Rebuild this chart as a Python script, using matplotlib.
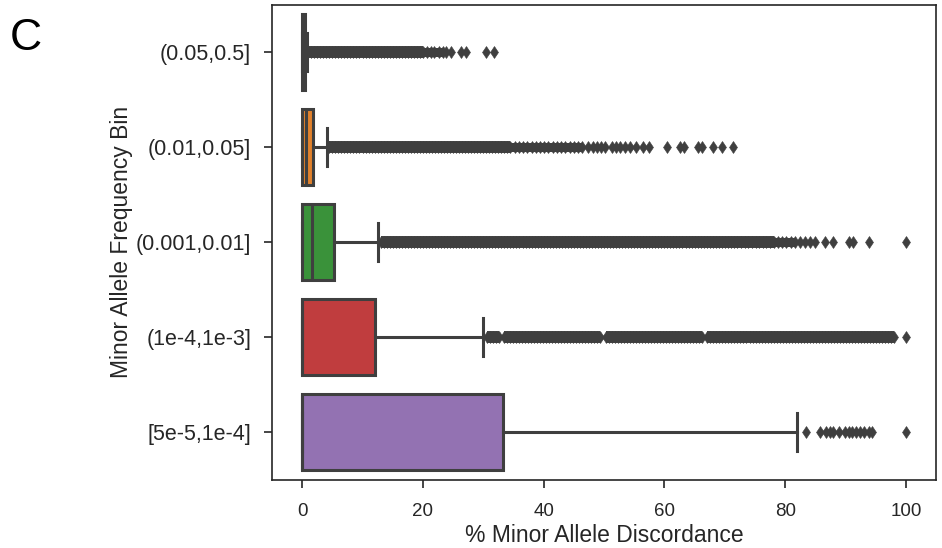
import matplotlib
matplotlib.use("Agg")
import matplotlib.pyplot as plt

# ── Data ─────────────────────────────────────────────────────────────────────
bins = ["(0.05,0.5]", "(0.01,0.05]", "(0.001,0.01]", "(1e-4,1e-3]", "[5e-5,1e-4]"]
q1 = [0.0, 0.0, 0.0, 0.0, 0.0]
med = [0.25, 0.7, 1.6, 0.0, 0.0]
q3 = [0.5, 1.8, 5.3, 12.1, 33.3]
whis_lo = [0.0, 0.0, 0.0, 0.0, 0.0]
whis_hi = [0.8, 4.1, 12.6, 30.0, 81.9]

# stretches where the outliers are so dense they merge into one solid band
dense_runs = [
    [(1.0, 20.0)],
    [(4.5, 34.5)],
    [(13.0, 78.1)],
    [(30.6, 32.6), (33.4, 49.4), (50.3, 66.3), (67.1, 98.1)],
    [],
]
# stretches that are still continuous but less dense
light_runs = [
    [(20.0, 23.3)],
    [(34.5, 46.4)],
    [(78.1, 81.6)],
    [],
    [],
]

fliers_0 = [1.0, 1.5, 2.0, 2.5, 3.0, 3.5, 4.0, 4.5, 5.0, 5.5, 6.0, 6.5, 7.0,
            7.5, 8.0, 8.5, 9.0, 9.5, 10.0, 10.5, 11.0, 11.5, 12.0, 12.5, 13.0,
            13.5, 14.0, 14.5, 15.0, 15.5, 16.0, 16.5, 17.0, 17.5, 18.0, 18.5,
            19.0, 19.5, 20.0, 20.6, 21.3, 21.9, 22.6, 23.3, 23.9, 24.6,
            26.3, 27.1, 30.4, 31.7]

fliers_1 = [4.5, 5.0, 5.5, 6.0, 6.5, 7.0, 7.5, 8.0, 8.5, 9.0, 9.5, 10.0,
            10.5, 11.0, 11.5, 12.0, 12.5, 13.0, 13.5, 14.0, 14.5, 15.0, 15.5,
            16.0, 16.5, 17.0, 17.5, 18.0, 18.5, 19.0, 19.5, 20.0, 20.5, 21.0,
            21.5, 22.0, 22.5, 23.0, 23.5, 24.0, 24.5, 25.0, 25.5, 26.0, 26.5,
            27.0, 27.5, 28.0, 28.5, 29.0, 29.5, 30.0, 30.5, 31.0, 31.5, 32.0,
            32.5, 33.0, 33.5, 34.0, 34.5, 35.2, 35.9, 36.6, 37.3, 38.0, 38.7,
            39.4, 40.1, 40.8, 41.5, 42.2, 42.9, 43.6, 44.3, 45.0, 45.7, 46.4,
            47.4, 48.1, 48.8, 49.5, 50.2, 51.3, 52.0, 52.7, 53.5, 54.3,
            55.3, 56.4, 57.4, 60.4, 62.6, 63.3, 65.5, 66.3, 68.0, 69.5, 71.3]

fliers_2 = [13.0, 13.5, 14.0, 14.5, 15.0, 15.5, 16.0, 16.5, 17.0, 17.5, 18.0,
            18.5, 19.0, 19.5, 20.0, 20.5, 21.0, 21.5, 22.0, 22.5, 23.0, 23.5,
            24.0, 24.5, 25.0, 25.5, 26.0, 26.5, 27.0, 27.5, 28.0, 28.5, 29.0,
            29.5, 30.0, 30.5, 31.0, 31.5, 32.0, 32.5, 33.0, 33.5, 34.0, 34.5,
            35.0, 35.5, 36.0, 36.5, 37.0, 37.5, 38.0, 38.5, 39.0, 39.5, 40.0,
            40.5, 41.0, 41.5, 42.0, 42.5, 43.0, 43.5, 44.0, 44.5, 45.0, 45.5,
            46.0, 46.5, 47.0, 47.5, 48.0, 48.5, 49.0, 49.5, 50.0, 50.5, 51.0,
            51.5, 52.0, 52.5, 53.0, 53.5, 54.0, 54.5, 55.0, 55.5, 56.0, 56.5,
            57.0, 57.5, 58.0, 58.5, 59.0, 59.5, 60.0, 60.5, 61.0, 61.5, 62.0,
            62.5, 63.0, 63.5, 64.0, 64.5, 65.0, 65.5, 66.0, 66.5, 67.0, 67.5,
            68.0, 68.5, 69.0, 69.5, 70.0, 70.5, 71.0, 71.5, 72.0, 72.7, 73.3,
            73.9, 74.5, 75.1, 75.7, 76.3, 76.9, 77.5, 78.1, 78.8, 79.5, 80.2,
            80.9, 81.6, 82.4, 83.3, 84.2, 85.0, 86.6, 88.0, 90.6, 91.3, 93.9,
            100.0]

fliers_3 = [30.6, 31.1, 31.6, 32.1, 32.6, 33.4, 33.9, 34.4, 34.9, 35.4, 35.9,
            36.4, 36.9, 37.4, 37.9, 38.4, 38.9, 39.4, 39.9, 40.4, 40.9, 41.4,
            41.9, 42.4, 42.9, 43.4, 43.9, 44.4, 44.9, 45.4, 45.9, 46.4, 46.9,
            47.4, 47.9, 48.4, 48.9, 49.4, 50.3, 50.8, 51.3, 51.8, 52.3, 52.8,
            53.3, 53.8, 54.3, 54.8, 55.3, 55.8, 56.3, 56.8, 57.3, 57.8, 58.3,
            58.8, 59.3, 59.8, 60.3, 60.8, 61.3, 61.8, 62.3, 62.8, 63.3, 63.8,
            64.3, 64.8, 65.3, 65.8, 66.3, 67.1, 67.6, 68.1, 68.6, 69.1, 69.6,
            70.1, 70.6, 71.1, 71.6, 72.1, 72.6, 73.1, 73.6, 74.1, 74.6, 75.1,
            75.6, 76.1, 76.6, 77.1, 77.6, 78.1, 78.6, 79.1, 79.6, 80.1, 80.6,
            81.1, 81.6, 82.1, 82.6, 83.1, 83.6, 84.1, 84.6, 85.1, 85.6, 86.1,
            86.6, 87.1, 87.6, 88.1, 88.6, 89.1, 89.6, 90.1, 90.6, 91.1, 91.6,
            92.1, 92.6, 93.1, 93.6, 94.1, 94.6, 95.1, 95.6, 96.1, 96.6, 97.1,
            97.6, 98.1, 100.0]

fliers_4 = [83.4, 85.7, 86.8, 87.4, 88.0, 88.9, 89.9, 90.5, 91.1, 91.7, 92.4,
            93.1, 93.9, 94.4, 100.0]

box_colors = ["#3274a1", "#e1812c", "#3a923a", "#c03d3e", "#9372b2"]
LINE = "#3f3f3f"
TEXT = "#262626"

plt.rcParams["font.family"] = ["Liberation Sans", "DejaVu Sans"]

fig = plt.figure(figsize=(9.42, 5.48), dpi=100)
ax = fig.add_axes([0.2887, 0.125, 0.705, 0.866])

fliers = [fliers_0, fliers_1, fliers_2, fliers_3, fliers_4]
stats = []
for i, name in enumerate(bins):
    stats.append(dict(label=name, q1=q1[i], med=med[i], q3=q3[i],
                      whislo=whis_lo[i], whishi=whis_hi[i], fliers=fliers[i]))

art = ax.bxp(stats, positions=range(len(bins)), widths=0.8,
             orientation="horizontal", patch_artist=True,
             boxprops=dict(edgecolor=LINE, linewidth=2.2),
             whiskerprops=dict(color=LINE, linewidth=2.2),
             capprops=dict(color=LINE, linewidth=2.2),
             medianprops=dict(color=LINE, linewidth=2.2),
             flierprops=dict(marker="d", markersize=6, markerfacecolor=LINE,
                             markeredgecolor=LINE, markeredgewidth=0.4,
                             linestyle="none"))
for patch, c in zip(art["boxes"], box_colors):
    patch.set_facecolor(c)

# solid band where thousands of outlier diamonds overlap
for i, runs in enumerate(dense_runs):
    for lo, hi in runs:
        ax.hlines(i, lo, hi, colors=LINE, linewidth=8.6, zorder=2.5)
for i, runs in enumerate(light_runs):
    for lo, hi in runs:
        ax.hlines(i, lo, hi, colors=LINE, linewidth=6.5, zorder=2.5)

ax.set_xlim(-5, 105)
ax.set_ylim(4.5, -0.5)
ax.set_xticks([0, 20, 40, 60, 80, 100])
ax.set_yticks(range(len(bins)))
ax.set_yticklabels(bins)
ax.tick_params(axis="both", direction="out", length=6, width=1.2,
               colors=TEXT)
ax.tick_params(axis="x", labelsize=13.5, pad=11)
ax.tick_params(axis="y", labelsize=15.5, pad=9)
for sp in ax.spines.values():
    sp.set_color(TEXT)
    sp.set_linewidth(1.2)

ax.set_xlabel("% Minor Allele Discordance", fontsize=16.5, color=TEXT, labelpad=3)
ax.set_ylabel("Minor Allele Frequency Bin", fontsize=16.5, color=TEXT, labelpad=2)

fig.text(0.01, 0.908, "C", fontsize=32, color="black", va="baseline")

fig.savefig("out.png", dpi=100)
